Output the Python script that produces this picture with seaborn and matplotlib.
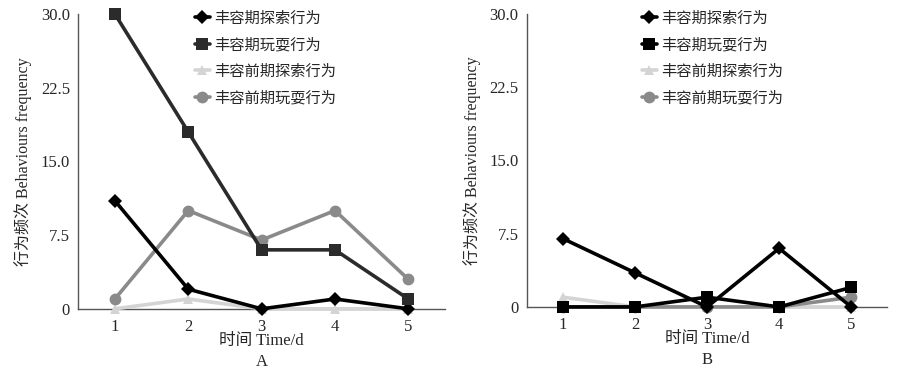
import pandas as pd
import matplotlib.pyplot as plt
import seaborn as sns

# Values
days = [1, 2, 3, 4, 5]
series_names = ["丰容期探索行为", "丰容期玩耍行为", "丰容前期探索行为", "丰容前期玩耍行为"]

# Panel A
a_explore_enrich = [11, 2, 0, 1, 0]
a_play_enrich = [30, 18, 6, 6, 1]
a_explore_pre = [0, 1, 0, 0, 0]
a_play_pre = [1, 10, 7, 10, 3]

# Panel B
b_explore_enrich = [7, 3.5, 0, 6, 0]
b_play_enrich = [0, 0, 1, 0, 2]
b_explore_pre = [1, 0, 0, 0, 0]
b_play_pre = [0, 0, 0, 0, 1]

y_ticks = [0, 7.5, 15.0, 22.5, 30.0]
y_tick_labels = ["0", "7.5", "15.0", "22.5", "30.0"]

markers = {series_names[0]: "D", series_names[1]: "s", series_names[2]: "^", series_names[3]: "o"}
marker_sizes = {series_names[0]: 7, series_names[1]: 8.5, series_names[2]: 7, series_names[3]: 8.5}
colors_a = {series_names[0]: "#000000", series_names[1]: "#2b2b2b",
            series_names[2]: "#d4d4d4", series_names[3]: "#8a8a8a"}
colors_b = {series_names[0]: "#000000", series_names[1]: "#000000",
            series_names[2]: "#d4d4d4", series_names[3]: "#8a8a8a"}


def to_long(values):
    rows = []
    for name, vals in zip(series_names, values):
        for d, v in zip(days, vals):
            rows.append({"day": d, "value": v, "series": name})
    return pd.DataFrame(rows)


data_a = to_long([a_explore_enrich, a_play_enrich, a_explore_pre, a_play_pre])
data_b = to_long([b_explore_enrich, b_play_enrich, b_explore_pre, b_play_pre])

sns.set_style("white")
plt.rcParams["font.family"] = ["Liberation Serif", "Noto Sans CJK SC"]

fig = plt.figure(figsize=(8.99, 3.78), dpi=100)
ax_a = fig.add_axes([0.087, 0.183, 0.408, 0.780])
ax_b = fig.add_axes([0.586, 0.188, 0.401, 0.775])

# draw order: light series first so dark ones sit on top
draw_order = [series_names[2], series_names[3], series_names[0], series_names[1]]

for ax, data, colors, caption in [(ax_a, data_a, colors_a, "A"), (ax_b, data_b, colors_b, "B")]:
    for name in draw_order:
        sub = data[data["series"] == name]
        sns.lineplot(data=sub, x="day", y="value", color=colors[name], marker=markers[name],
                     markersize=marker_sizes[name], markeredgewidth=0, linewidth=2.6,
                     ax=ax, clip_on=False, legend=False, zorder=3)

    ax.set_xlim(0.5, 5.5)
    ax.set_ylim(0, 30)
    ax.set_xticks(days)
    ax.set_xticklabels([str(d) for d in days], fontsize=12)
    ax.set_yticks(y_ticks)
    ax.set_yticklabels(y_tick_labels, fontsize=12)
    ax.tick_params(axis="y", direction="out", length=4, color="#555555", pad=2)
    ax.tick_params(axis="x", length=0, pad=7)
    for side in ["top", "right"]:
        ax.spines[side].set_visible(False)
    for side in ["left", "bottom"]:
        ax.spines[side].set_color("#555555")
        ax.spines[side].set_linewidth(1.0)
    ax.set_xlabel("时间 Time/d", fontsize=12, labelpad=-1)
    ax.set_ylabel("行为频次 Behaviours frequency", fontsize=11.5, labelpad=6)
    ax.text(0.5, -0.18, caption, transform=ax.transAxes, ha="center", va="center", fontsize=12)

    handles = [plt.Line2D([], [], color=colors[n], marker=markers[n], markersize=marker_sizes[n],
                          markeredgewidth=0, linewidth=2.6) for n in series_names]
    ax.legend(handles, series_names, loc="upper left", bbox_to_anchor=(0.28, 1.055),
              frameon=False, fontsize=11, handlelength=1.0, handletextpad=0.3,
              labelspacing=0.8)

fig.savefig("out.png", dpi=100)
plt.close(fig)
